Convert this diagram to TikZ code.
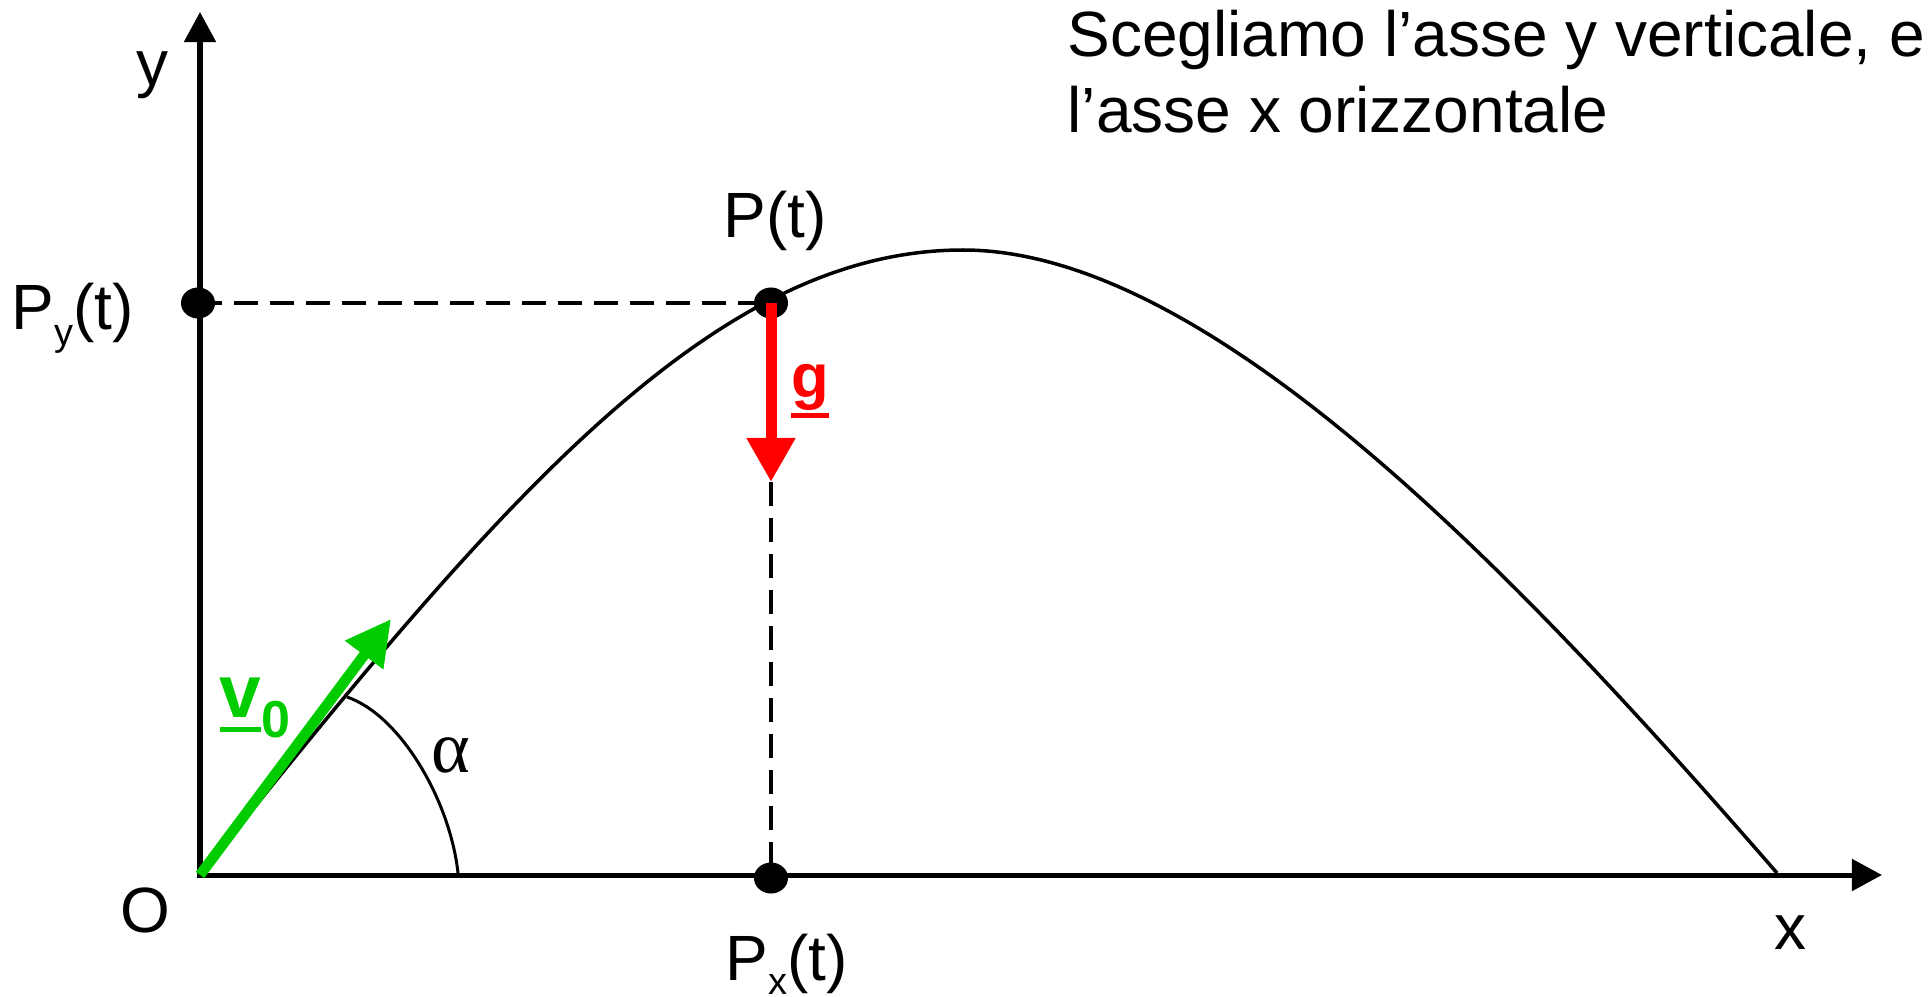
\documentclass[tikz,border=0pt]{standalone}
\usepackage{fontspec}
\usepackage{graphicx}
\setmainfont{Liberation Sans}
\newfontfamily\grserif{Liberation Serif}
\usetikzlibrary{arrows.meta,shapes.geometric,backgrounds}
\definecolor{vgreen}{RGB}{0,204,0}
\definecolor{gred}{RGB}{255,0,0}
\newcommand\myul[3]{\setbox0\hbox{#1}\rlap{\raisebox{#2}{\rule{\wd0}{#3}}}\box0}
\begin{document}
\begin{tikzpicture}[x=0.01cm,y=-0.01cm,
  lbl/.style={inner sep=0, anchor=base west, font=\fontsize{18.2}{21.8}\selectfont},
  axis/.style={line width=0.05cm, {Triangle[length=0.3cm,width=0.31cm]}-{Triangle[length=0.3cm,width=0.31cm]}},
  dashln/.style={line width=0.035cm, dash pattern=on 0.24cm off 0.12cm},
  curve/.style={line width=0.035cm},
  dot/.style={ellipse, fill=black, inner sep=0, minimum width=0.34cm, minimum height=0.31cm},
  garrow/.style={draw=gred, line width=0.11cm, -{Triangle[length=0.44cm,width=0.46cm]}},
  varrow/.style={draw=vgreen, line width=0.105cm, -{Triangle[length=0.45cm,width=0.45cm]}},
]
\useasboundingbox (0,0) rectangle (1929,997);
\coordinate (O) at (200,875);
\coordinate (ytop) at (200,12);
\coordinate (xend) at (1882,875);
\coordinate (gtip) at (771,482);
\coordinate (v0tip) at (391,619);
\coordinate (top) at (963,250);
\coordinate (land) at (1777,873);

\node[dot] (Py) at (198,303) {};
\node[dot] (P) at (771,303) {};
\node[dot] (Px) at (771,878) {};

\begin{scope}[on background layer]
\draw[axis] (ytop) -- (O) -- (xend);
\draw[dashln] (Py.center) -- (P.center);
\draw[dashln] (gtip) -- (Px.center);
\draw[curve] (O) .. controls (500,500) and (713,250) .. (top)
                 .. controls (1213,250) and (1527,585.5) .. (land);
\draw[line width=0.03cm] (347,697) .. controls (400,715) and (450,800) .. (458,873);
\end{scope}

\draw[garrow] (P.center) -- (gtip);
\draw[varrow] (O) -- (v0tip);

\node[lbl] (ylab) at (136,86) {y};
\node[lbl] (Olab) at (120,932) {O};
\node[lbl] (xlab) at (1774,949) {x};
\node[lbl] (Ptlab) at (723,238) {P(t)};
\node[lbl] (Pylab) at (11,330) {P\raisebox{-0.15cm}{\fontsize{10.8}{12}\selectfont y}(t)};
\node[lbl] (Pxlab) at (725,980) {P\raisebox{-0.14cm}{\fontsize{10.8}{12}\selectfont x}(t)};
\node[lbl] (t1) at (1067,57) {Scegliamo l’asse y verticale, e};
\node[lbl] (t2) at (1067,133) {l’asse x orizzontale};
\node[inner sep=0, anchor=base, text=gred, font=\fontsize{17.5}{19}\selectfont\bfseries] (glab) at (810,398) {\myul{g}{-0.2cm}{0.05cm}};
\node[inner sep=0, anchor=base west, text=vgreen, font=\fontsize{21.3}{24}\selectfont\bfseries] (vlab) at (219,717) {\myul{v}{-0.15cm}{0.05cm}};
\node[inner sep=0, anchor=base west, text=vgreen, font=\fontsize{14.8}{16}\selectfont\bfseries] (v0sub) at (261,737) {0};
\node[inner sep=0, font=\fontsize{21}{24}\selectfont\grserif] (alab) at (451,755) {α};
\end{tikzpicture}
\end{document}
